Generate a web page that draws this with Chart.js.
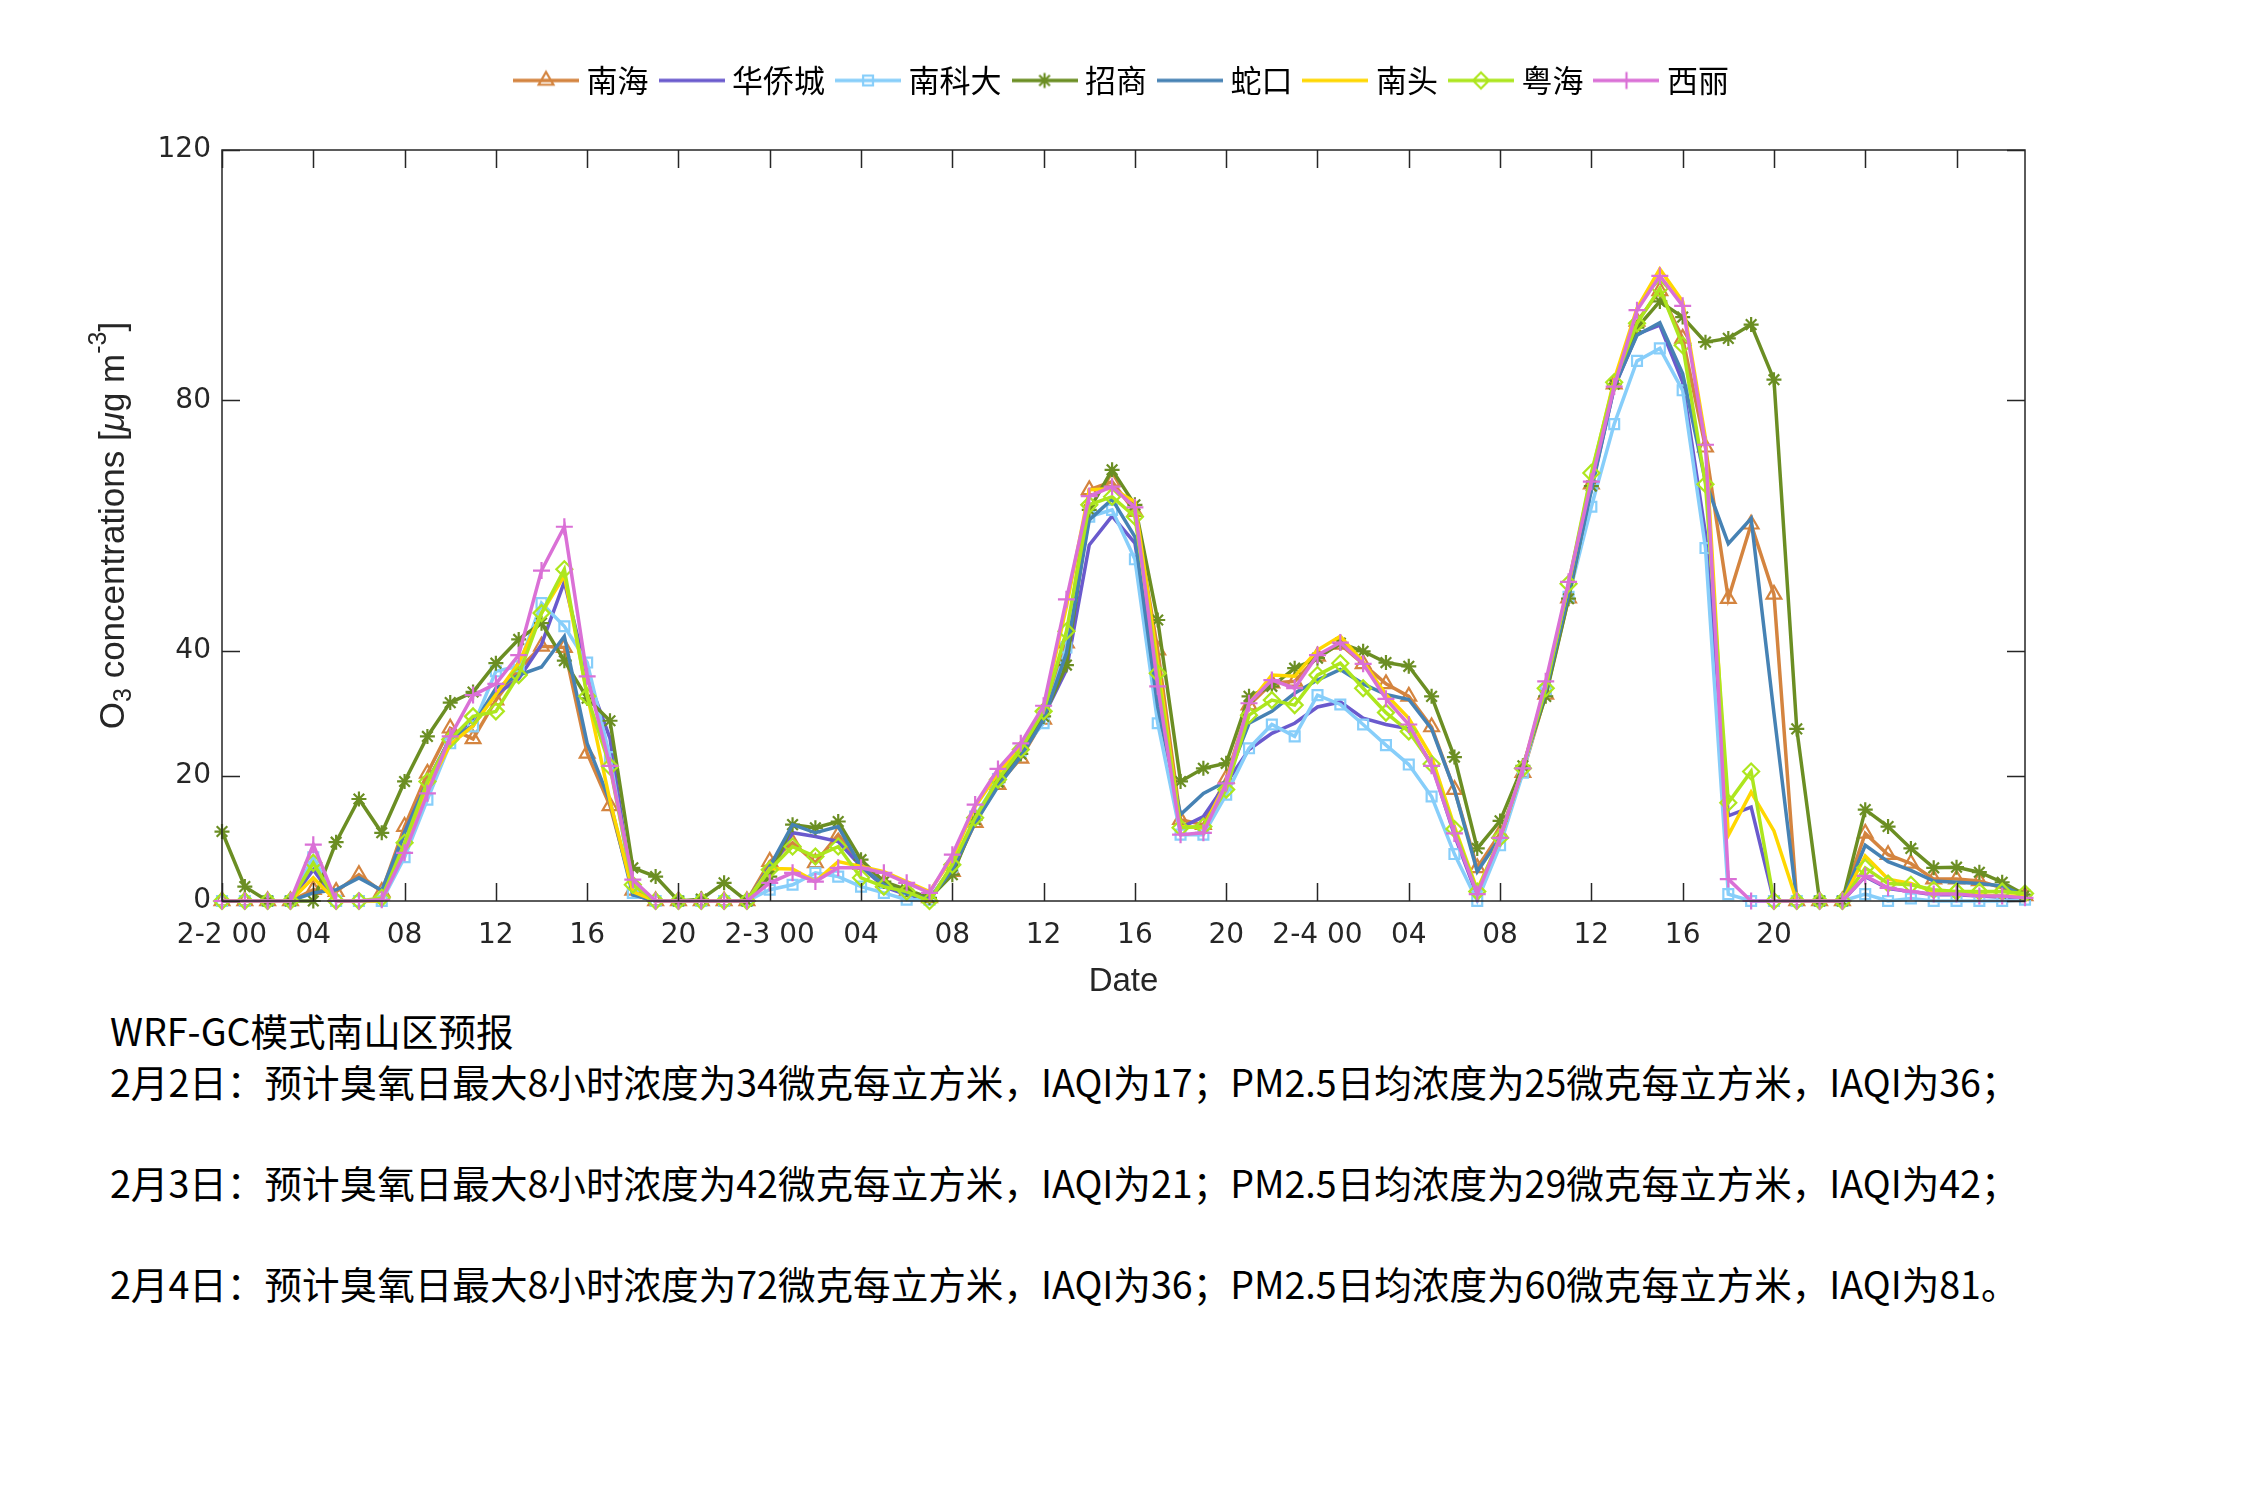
<!DOCTYPE html>
<html>
<head>
<meta charset="utf-8">
<title>南山区臭氧预报</title>
<script src="https://cdn.jsdelivr.net/npm/chart.js"></script>
<style>
    html, body { margin: 0; padding: 0; background: #fff; }
    #wrap { position: absolute; left: 0; top: 0; width: 2250px; height: 1000px; }
    #notes {
        position: absolute; left: 110px; top: 1005px;
        font: 37.6px "Noto Sans CJK SC", sans-serif;
        line-height: 50.5px; color: #000; white-space: pre;
    }
</style>
</head>
<body>
<div id="wrap"><canvas id="chart"></canvas></div>
<div id="notes">WRF-GC模式南山区预报
2月2日：预计臭氧日最大8小时浓度为34微克每立方米，IAQI为17；PM2.5日均浓度为25微克每立方米，IAQI为36；

2月3日：预计臭氧日最大8小时浓度为42微克每立方米，IAQI为21；PM2.5日均浓度为29微克每立方米，IAQI为42；

2月4日：预计臭氧日最大8小时浓度为72微克每立方米，IAQI为36；PM2.5日均浓度为60微克每立方米，IAQI为81。</div>
<script>
// --- Data (hours from 2-2 00, ozone in ug/m3) ---

const HOURS = [0, 1, 2, 3, 4, 5, 6, 7, 8, 9, 10, 11, 12, 13, 14, 15, 16, 17, 18, 19,
    20, 21, 22, 23, 24, 25, 26, 27, 28, 29, 30, 31, 32, 33, 34, 35, 36, 37, 38, 39,
    40, 41, 42, 43, 44, 45, 46, 47, 48, 49, 50, 51, 52, 53, 54, 55, 56, 57, 58, 59,
    60, 61, 62, 63, 64, 65, 66, 67, 68, 69, 70, 71, 72, 73, 74, 75, 76, 77, 78, 79];

const X_TICKS = [0, 4, 8, 12, 16, 20, 24, 28, 32, 36, 40, 44, 48, 52, 56, 60, 64, 68, 72, 76];
const X_TICK_LABELS = ['2-2 00', '04', '08', '12', '16', '20', '2-3 00', '04', '08', '12', '16', '20',
    '2-4 00', '04', '08', '12', '16', '20', '', ''];
const Y_TICKS = [0, 20, 40, 80, 120];

const STATIONS = ['南海', '华侨城', '南科大', '招商', '蛇口', '南头', '粤海', '西丽'];

const nanhai = [0, 0, 0, 0, 1.8, 1.5, 4.2, 1.5, 11.9, 20.4, 27.6, 25.9, 32.1, 37, 40.7, 40.5, 23.6, 15.2, 1.7, 0, 0, 0, 0, 0,
    6.3, 9.3, 6.1, 10.6, 5.8, 2.9, 1.5, 0.5, 4.7, 12.5, 18.6, 22.8, 29, 41.2, 65.7, 67, 62.2, 40.1, 13, 12.2, 19.6, 31.3, 34.8, 35.1,
    39.1, 41, 37.9, 34.7, 32.7, 27.8, 17.8, 5.3, 10.8, 20.5, 33, 48.4, 66.6, 82.6, 92.6, 97.5, 89.9, 72.5, 48.3, 60.2, 49, 0,
    0, 0, 10.8, 7.4, 6, 3.5, 3.5, 3.2, 2.1, 0.8];
const huaqiaocheng = [0, 0, 0, 0, 5, 0, 0, 0, 11, 19, 26, 29, 33, 35.5, 41, 51, 36, 26, 1, 0, 0, 0, 0, 0,
    4.5, 10.9, 10.3, 9.5, 5.5, 2.3, 1.0, 0.3, 5.5, 13, 19, 23.5, 29.5, 36.9, 56.9, 61.5, 57.2, 34, 11.7, 13.5, 18.8, 24.2, 26.8, 28.4,
    31, 31.8, 29.2, 28.2, 27.5, 21.9, 10.5, 0.8, 10, 21.2, 33.5, 49, 66, 82, 90.6, 92, 82.9, 58.7, 13.6, 15, 0, 0,
    0, 0, 3.9, 2, 1.5, 1, 1, 0.8, 0.6, 0.5];
const nankeda = [0, 0, 0, 0, 7, 0, 0, 0, 7, 16.2, 25.2, 27.9, 36.7, 37.5, 47.6, 43.9, 38.1, 23, 1.3, 0, 0, 0, 0, 0,
    1.8, 2.6, 4.5, 3.9, 2.3, 1.3, 0.2, 0.2, 5.5, 13.5, 19.5, 24, 28.4, 40.5, 61.4, 62.5, 54.6, 28.4, 10.6, 10.6, 17, 24.4, 28.2, 26.3,
    32.9, 31.4, 28.2, 24.9, 21.8, 16.7, 7.5, 0, 8.9, 20.5, 33.7, 48.6, 63, 76.2, 86.3, 88.3, 81.6, 56.4, 1.1, 0, 0, 0,
    0, 0, 1.1, 0, 0.4, 0, 0, 0, 0, 0.2];
const zhaoshang = [11.1, 2.3, 0, 0, 0, 9.4, 16.3, 10.9, 19.1, 26.3, 31.7, 33.4, 38, 41.8, 44.4, 38.4, 32.4, 28.8, 5.3, 3.9, 0, 0.3, 2.9, 0,
    3.9, 12.2, 11.7, 12.7, 6.6, 3.1, 1.8, 0.5, 4.2, 13, 19, 23.5, 29.5, 37.7, 62.5, 68.9, 63.3, 44.9, 19.1, 21.2, 22, 32.7, 34.3, 37.2,
    38.8, 41.2, 39.9, 38.1, 37.5, 32.7, 23, 8.4, 12.8, 21.6, 32.7, 48.3, 66.3, 82.6, 91.6, 95.8, 93.3, 89.3, 89.9, 92.1, 83.3, 27.5,
    0, 0, 14.6, 11.9, 8.4, 5.3, 5.4, 4.6, 3, 1];
const shekou = [0, 0, 0, 0, 1.3, 1.8, 3.7, 1.7, 10.9, 19, 26, 28, 34, 36.1, 37.4, 42.3, 25.2, 15.9, 1, 0, 0, 0, 0, 0,
    5.5, 12.2, 10.9, 11.9, 5.5, 2.6, 1.2, 0.3, 5, 12.5, 18.3, 23.1, 29, 39.6, 60.9, 64.2, 58.2, 31, 13.8, 17.2, 19.1, 28.4, 30.3, 33.2,
    35.3, 37, 34.7, 33, 32.2, 27.5, 17.8, 4.7, 10.1, 21.2, 33.5, 49, 65.6, 82.2, 90.4, 92.4, 84.3, 67, 57.1, 61.1, 30, 0,
    0, 0, 8.9, 6.3, 4.9, 3.2, 3, 2.8, 2.4, 0.8];
const nantou = [0, 0, 0, 0, 3.7, 0, 0, 0, 9, 18, 25, 28, 33, 38, 46, 52, 33, 16, 1.5, 0, 0, 0, 0, 0,
    5.2, 5.1, 3.1, 6.3, 5.5, 4.7, 3.1, 1.5, 6.8, 15.1, 20.4, 24.6, 30.8, 47, 65.7, 65.9, 63.8, 38, 11.9, 11.7, 19, 31.5, 36.1, 35.9,
    40.1, 42.3, 38.2, 33, 29.2, 23, 11.9, 1.8, 10, 21.2, 34.5, 50.5, 68, 83.3, 94.7, 101, 95.8, 73.9, 10.5, 17.4, 11.2, 0,
    0, 0, 7.2, 3.5, 2.8, 1.5, 1.2, 1, 0.8, 0.8];
const yuehai = [0, 0, 0, 0, 6.1, 0, 0, 0.5, 9.3, 19.1, 25.8, 29.5, 30.3, 36.1, 46, 53, 32.7, 21.5, 2.6, 0, 0, 0, 0, 0,
    5, 8.7, 7.1, 8.7, 3.7, 2.3, 1.5, 0, 5.8, 13.3, 19.4, 24.2, 30.3, 43.1, 63.3, 64.6, 61.4, 36.4, 11.7, 11.9, 17.8, 29.7, 32.1, 31.3,
    36.1, 38, 34, 30.1, 27.1, 21.9, 11.5, 1.5, 10.1, 21.2, 34, 50.7, 68.4, 82.9, 92.3, 97.9, 88.8, 66.6, 15.7, 20.7, 0, 0,
    0, 0, 5.3, 2.8, 2.6, 1.8, 1.5, 1.5, 1.5, 1.2];
const xili = [0, 0, 0, 0, 9, 0, 0, 0.2, 7.7, 17.2, 26.3, 32.9, 34.7, 39.3, 52.8, 59.8, 35.9, 21.6, 3.4, 0, 0, 0, 0, 0,
    2.9, 4.5, 3.1, 5.3, 5.3, 4.5, 2.9, 1.3, 7.4, 15.4, 21.1, 25.2, 31.2, 48.2, 64.7, 66.2, 62.9, 34.3, 10.6, 10.9, 18.8, 31.6, 35.3, 34,
    39.3, 41.3, 37.9, 32.3, 28.2, 21.6, 10.8, 1.1, 10.1, 21.2, 35.1, 51, 67, 82.2, 94.4, 99.9, 95.1, 72.9, 3.5, 0, 0, 0,
    0, 0, 4, 2.1, 1.5, 1.1, 1.1, 0.8, 0.8, 0.5];

const SERIES = [nanhai, huaqiaocheng, nankeda, zhaoshang, shekou, nantou, yuehai, xili];

// --- Styles ---

const COLORS = ['#D4843F', '#6A5ACD', '#87CEFA', '#6B8E23', '#4682B4', '#FFD700', '#ADE61E', '#DA70D6'];
const MARKERS = ['triangle', null, 'rect', 'star', null, null, 'rectRot', 'cross'];
const MARKER_SIZE = [8.5, 0, 7, 7.5, 0, 0, 8, 8.5];
const AXIS_COLOR = '#262626';
const TICK_FONT = { family: 'DejaVu Sans', size: 28 };

// legend sample: short line with the marker in the middle
function makeLegendIcon(i) {
    const c = document.createElement('canvas');
    c.width = 66;
    c.height = 24;
    const g = c.getContext('2d');
    g.strokeStyle = COLORS[i];
    g.lineWidth = 3.5;
    g.beginPath();
    g.moveTo(0, 12);
    g.lineTo(66, 12);
    g.stroke();
    if (MARKERS[i] && Chart.helpers && Chart.helpers.drawPoint) {
        g.lineWidth = 2.2;
        g.fillStyle = 'rgba(0,0,0,0)';
        Chart.helpers.drawPoint(g, { pointStyle: MARKERS[i], radius: MARKER_SIZE[i], rotation: 0, borderWidth: 2.2 }, 33, 12);
    }
    return c;
}
const legendIcons = STATIONS.map((_, i) => makeLegendIcon(i));

// box frame + inward ticks, y title with sub/superscripts
const frameAndTitle = {
    id: 'frameAndTitle',
    afterDatasetsDraw(chart) {
        const { ctx, chartArea: a, scales } = chart;
        const len = 18;
        ctx.save();
        ctx.strokeStyle = AXIS_COLOR;
        ctx.lineWidth = 1.5;
        ctx.beginPath();
        X_TICKS.forEach(v => {
            const px = Math.round(scales.x.getPixelForValue(v)) + 0.5;
            ctx.moveTo(px, a.bottom); ctx.lineTo(px, a.bottom - len);
            ctx.moveTo(px, a.top); ctx.lineTo(px, a.top + len);
        });
        Y_TICKS.forEach(v => {
            const py = Math.round(scales.y.getPixelForValue(v)) + 0.5;
            ctx.moveTo(a.left, py); ctx.lineTo(a.left + len, py);
            ctx.moveTo(a.right, py); ctx.lineTo(a.right - len, py);
        });
        ctx.stroke();
        ctx.strokeRect(a.left, a.top, a.right - a.left, a.bottom - a.top);

        // y axis title
        const size = 35;
        const fam = '"Liberation Sans", Arial, sans-serif';
        const parts = [
            { t: 'O', s: 1, dy: 0 },
            { t: '3', s: 0.72, dy: 0.3 },
            { t: ' concentrations [', s: 1, dy: 0 },
            { t: 'μ', s: 1, dy: 0, it: true },
            { t: 'g m', s: 1, dy: 0 },
            { t: '-3', s: 0.72, dy: -0.42 },
            { t: ']', s: 1, dy: 0 }
        ];
        const fontOf = p => `${p.it ? 'italic ' : ''}${Math.round(size * p.s)}px ${fam}`;
        let total = 0;
        parts.forEach(p => { ctx.font = fontOf(p); p.w = ctx.measureText(p.t).width; total += p.w; });
        ctx.translate(a.left - 108, (a.top + a.bottom) / 2);
        ctx.rotate(-Math.PI / 2);
        ctx.fillStyle = AXIS_COLOR;
        ctx.textBaseline = 'middle';
        ctx.textAlign = 'left';
        let x = -total / 2;
        parts.forEach(p => {
            ctx.font = fontOf(p);
            ctx.fillText(p.t, x, p.dy * size);
            x += p.w;
        });
        ctx.restore();
    }
};

const datasets = STATIONS.map((name, i) => ({
    label: name,
    data: HOURS.map((h, k) => ({ x: h, y: SERIES[i][k] })),
    borderColor: COLORS[i],
    backgroundColor: COLORS[i],
    borderWidth: 3.5,
    pointStyle: MARKERS[i] || 'circle',
    pointRadius: MARKERS[i] ? MARKER_SIZE[i] : 0,
    pointBorderWidth: 2.2,
    pointBorderColor: COLORS[i],
    pointBackgroundColor: 'rgba(0,0,0,0)',
    tension: 0,
    clip: false,
    order: STATIONS.length - i
}));

new Chart(document.getElementById('chart'), {
    type: 'line',
    data: { datasets },
    plugins: [frameAndTitle],
    options: {
        responsive: true,
        maintainAspectRatio: false,
        animation: false,
        events: [],
        layout: { padding: { top: 47, left: 0, right: 0, bottom: 0 } },
        plugins: {
            tooltip: { enabled: false },
            legend: {
                position: 'top',
                labels: {
                    usePointStyle: true,
                    pointStyleWidth: 50,
                    padding: 18,
                    color: '#000',
                    font: { family: '"Noto Sans CJK SC", sans-serif', size: 31 },
                    sort: (a, b) => a.datasetIndex - b.datasetIndex,
                    generateLabels(chart) {
                        const items = Chart.defaults.plugins.legend.labels.generateLabels(chart);
                        items.forEach(it => { it.pointStyle = legendIcons[it.datasetIndex]; });
                        return items;
                    }
                }
            }
        },
        scales: {
            x: {
                type: 'linear',
                position: 'bottom',
                min: 0,
                max: 79,
                grid: { display: false, drawTicks: false },
                border: { display: false },
                afterBuildTicks: scale => { scale.ticks = X_TICKS.map(v => ({ value: v })); },
                afterFit: scale => { scale.height = 99; },
                ticks: {
                    autoSkip: false,
                    maxRotation: 0,
                    padding: 18,
                    color: AXIS_COLOR,
                    font: TICK_FONT,
                    callback: (v, idx) => X_TICK_LABELS[idx]
                },
                title: {
                    display: true,
                    text: 'Date',
                    color: AXIS_COLOR,
                    padding: 0,
                    font: { family: '"Liberation Sans", Arial, sans-serif', size: 33, lineHeight: 1.1 }
                }
            },
            xTop: {
                type: 'linear',
                position: 'top',
                min: 0,
                max: 79,
                grid: { display: false, drawTicks: false },
                border: { display: false },
                ticks: { display: false },
                afterFit: scale => { scale.height = 44; }
            },
            y: {
                type: 'linear',
                position: 'left',
                min: 0,
                max: 120,
                grid: { display: false, drawTicks: false },
                border: { display: false },
                afterBuildTicks: scale => { scale.ticks = Y_TICKS.map(v => ({ value: v })); },
                afterFit: scale => { scale.width = 222; },
                ticks: { padding: 11, color: AXIS_COLOR, font: TICK_FONT }
            },
            yRight: {
                type: 'linear',
                position: 'right',
                min: 0,
                max: 120,
                grid: { display: false, drawTicks: false },
                border: { display: false },
                ticks: { display: false },
                afterFit: scale => { scale.width = 225; }
            }
        }
    }
});
</script>
</body>
</html>
